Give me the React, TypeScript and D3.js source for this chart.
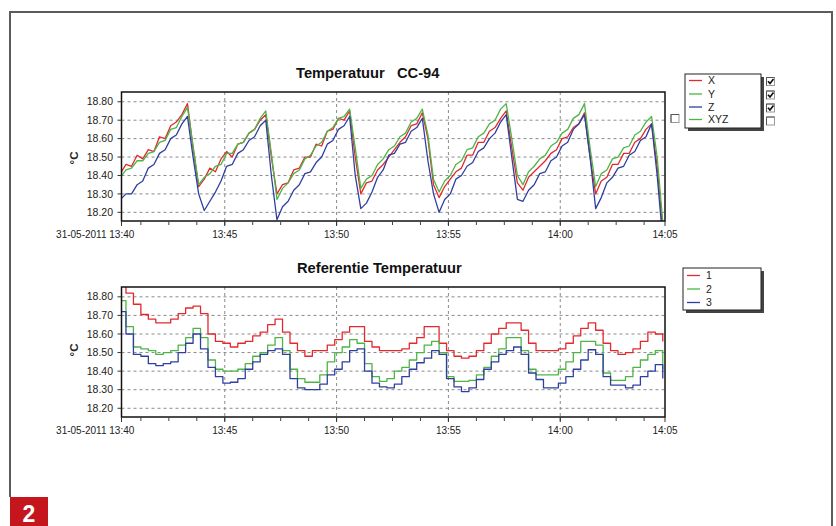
import React from "react";
import * as d3 from "d3";

// ---------- DATA ----------
const TOP_START = new Date(2011, 4, 31, 13, 40, 20);
const TOP_STEP_SEC = 15;
const topX = [
  18.41,18.46,18.45,18.51,18.49,18.54,18.53,18.61,18.60,18.67,
  18.69,18.73,18.79,18.55,18.34,18.38,18.44,18.42,18.49,18.53,
  18.50,18.57,18.58,18.63,18.65,18.70,18.73,18.50,18.30,18.35,
  18.36,18.43,18.44,18.50,18.50,18.57,18.56,18.64,18.65,18.71,
  18.70,18.75,18.50,18.30,18.36,18.37,18.43,18.46,18.50,18.54,
  18.58,18.61,18.67,18.68,18.74,18.60,18.35,18.28,18.34,18.38,
  18.42,18.44,18.51,18.51,18.58,18.58,18.64,18.66,18.71,18.75,
  18.55,18.36,18.32,18.39,18.42,18.45,18.48,18.52,18.54,18.60,
  18.61,18.66,18.68,18.74,18.50,18.30,18.37,18.39,18.46,18.46,
  18.52,18.52,18.58,18.60,18.65,18.68,18.45,18.10,
];
const topY = [
  18.39,18.43,18.44,18.48,18.48,18.52,18.53,18.58,18.59,18.65,
  18.66,18.72,18.77,18.56,18.35,18.39,18.41,18.45,18.46,18.52,
  18.52,18.57,18.58,18.63,18.65,18.71,18.75,18.52,18.27,18.33,
  18.36,18.41,18.43,18.49,18.51,18.56,18.58,18.64,18.66,18.71,
  18.72,18.76,18.55,18.33,18.38,18.40,18.46,18.49,18.54,18.56,
  18.61,18.63,18.69,18.71,18.76,18.62,18.38,18.31,18.37,18.40,
  18.46,18.48,18.54,18.55,18.61,18.63,18.68,18.70,18.76,18.79,
  18.60,18.40,18.35,18.42,18.45,18.49,18.51,18.56,18.58,18.63,
  18.65,18.71,18.73,18.79,18.55,18.34,18.41,18.43,18.49,18.50,
  18.55,18.56,18.62,18.64,18.69,18.72,18.50,18.15,
];
const topZ = [
  18.27,18.30,18.30,18.35,18.37,18.44,18.46,18.52,18.54,18.60,
  18.62,18.68,18.72,18.50,18.30,18.21,18.26,18.31,18.37,18.45,
  18.46,18.52,18.54,18.59,18.61,18.67,18.70,18.40,18.16,18.23,
  18.26,18.32,18.35,18.41,18.42,18.47,18.50,18.57,18.59,18.65,
  18.67,18.72,18.40,18.22,18.25,18.31,18.39,18.43,18.51,18.52,
  18.57,18.58,18.64,18.66,18.71,18.48,18.30,18.20,18.27,18.30,
  18.38,18.40,18.45,18.47,18.53,18.55,18.60,18.63,18.69,18.73,
  18.50,18.27,18.26,18.32,18.35,18.41,18.42,18.48,18.50,18.56,
  18.58,18.65,18.68,18.73,18.50,18.22,18.28,18.36,18.39,18.44,
  18.45,18.51,18.53,18.59,18.61,18.68,18.40,18.05,
];

const REF_START = new Date(2011, 4, 31, 13, 40, 15);
const REF_STEP_SEC = 20;
const ref1 = [
  18.88,18.82,18.76,18.705,18.68,18.66,18.66,18.68,18.71,18.74,
  18.75,18.71,18.60,18.56,18.55,18.53,18.55,18.56,18.59,18.61,
  18.65,18.68,18.61,18.55,18.51,18.48,18.51,18.51,18.54,18.57,
  18.61,18.64,18.64,18.56,18.53,18.51,18.51,18.51,18.52,18.55,
  18.58,18.64,18.64,18.55,18.51,18.48,18.47,18.48,18.51,18.55,
  18.60,18.63,18.66,18.66,18.62,18.55,18.51,18.51,18.51,18.52,
  18.55,18.59,18.63,18.66,18.62,18.55,18.51,18.49,18.50,18.52,
  18.56,18.61,18.60,18.56,
];
const ref2 = [
  18.78,18.64,18.53,18.52,18.51,18.49,18.50,18.51,18.54,18.58,
  18.63,18.58,18.46,18.41,18.40,18.40,18.41,18.44,18.48,18.50,
  18.54,18.58,18.51,18.41,18.36,18.34,18.34,18.38,18.45,18.50,
  18.53,18.57,18.55,18.44,18.37,18.345,18.36,18.40,18.42,18.46,
  18.50,18.54,18.56,18.50,18.37,18.345,18.345,18.35,18.38,18.42,
  18.48,18.52,18.58,18.58,18.51,18.41,18.38,18.38,18.38,18.41,
  18.45,18.50,18.56,18.56,18.54,18.39,18.35,18.35,18.37,18.42,
  18.46,18.49,18.51,18.41,
];
const ref3 = [
  18.72,18.60,18.49,18.48,18.44,18.43,18.44,18.45,18.50,18.55,
  18.60,18.52,18.42,18.37,18.335,18.34,18.36,18.41,18.45,18.49,
  18.51,18.52,18.49,18.36,18.31,18.30,18.30,18.33,18.38,18.41,
  18.45,18.51,18.52,18.40,18.335,18.315,18.31,18.33,18.37,18.41,
  18.445,18.47,18.51,18.49,18.36,18.315,18.29,18.31,18.355,18.41,
  18.45,18.49,18.51,18.53,18.49,18.39,18.355,18.31,18.31,18.335,
  18.37,18.41,18.46,18.515,18.49,18.37,18.325,18.325,18.31,18.325,
  18.37,18.40,18.435,18.36,
];

const yTicks = [18.2, 18.3, 18.4, 18.5, 18.6, 18.7, 18.8];
const Y_DOMAIN = [18.153, 18.853];
const X_DOMAIN = [new Date(2011, 4, 31, 13, 40, 23), new Date(2011, 4, 31, 14, 4, 41)];
const xTickTimes = [
  X_DOMAIN[0],
  new Date(2011, 4, 31, 13, 45),
  new Date(2011, 4, 31, 13, 50),
  new Date(2011, 4, 31, 13, 55),
  new Date(2011, 4, 31, 14, 0),
  X_DOMAIN[1],
];
const xTickLabels = ["31-05-2011 13:40", "13:45", "13:50", "13:55", "14:00", "14:05"];
const gridTimes = xTickTimes.slice(1, 5);
const topLegend = ["X", "Y", "Z", "XYZ"];
const topChecked = [true, true, true, false];
const refLegend = ["1", "2", "3"];

// ---------- STYLE ----------
const FONT = "'Liberation Sans', Arial, Helvetica, sans-serif";
const RED = "#e3292e";
const GREEN = "#4db545";
const BLUE = "#2f3fa0";
const PL = 121.5;
const PR = 665;

const x = d3.scaleTime().domain(X_DOMAIN).range([PL, PR]);
const minorTicks = d3.timeMinute
  .every(1)!
  .range(new Date(2011, 4, 31, 13, 40), new Date(2011, 4, 31, 14, 6))
  .flatMap((d) => [d])
  .filter(() => false);
// minor ticks every 75 seconds
const minorTimes: Date[] = d3
  .range(0, 21)
  .map((k) => d3.timeSecond.offset(new Date(2011, 4, 31, 13, 40), k * 75))
  .filter((d) => d >= X_DOMAIN[0] && d <= X_DOMAIN[1]);

function Panel({
  top, bottom, title, titleX, titleY, series, colors, start, stepSec, step, idp, ylabY,
}: any) {
  const y = d3.scaleLinear().domain(Y_DOMAIN).range([bottom, top]);
  const t = (i: number) => new Date(start.getTime() + i * stepSec * 1000);
  const line = d3
    .line<number>()
    .x((_, i) => x(t(i)))
    .y((d) => y(d))
    .curve(step ? d3.curveStepAfter : d3.curveLinear);
  return (
    <g>
      <defs>
        <clipPath id={idp}>
          <rect x={PL} y={top} width={PR - PL} height={bottom - top} />
        </clipPath>
      </defs>
      <text x={titleX} y={titleY} fontFamily={FONT} fontWeight="bold" fontSize={14.7} fill="#111" style={{ whiteSpace: "pre" }}>
        {title}
      </text>
      {/* grid */}
      {yTicks.map((v) => (
        <line key={"gy" + v} x1={PL} x2={PR} y1={y(v)} y2={y(v)} stroke="#8a8a8a" strokeDasharray="3,3" strokeWidth={1} />
      ))}
      {gridTimes.map((d, i) => (
        <line key={"gx" + i} x1={x(d)} x2={x(d)} y1={top} y2={bottom} stroke="#8a8a8a" strokeDasharray="3,3" strokeWidth={1} />
      ))}
      {/* series */}
      <g clipPath={`url(#${idp})`}>
        {series.map((s: number[], i: number) => (
          <path key={i} d={line(s) || ""} fill="none" stroke={colors[i]} strokeWidth={1.3} strokeLinejoin="round" />
        ))}
      </g>
      {/* frame */}
      <rect x={PL} y={top} width={PR - PL} height={bottom - top} fill="none" stroke="#111" strokeWidth={1.5} />
      {/* y ticks */}
      {yTicks.map((v) => (
        <g key={"yt" + v}>
          <line x1={PL - 4} x2={PL} y1={y(v)} y2={y(v)} stroke="#333" />
          <text x={113} y={y(v) + 3.6} textAnchor="end" fontFamily={FONT} fontSize={10.5} fill="#222">
            {v.toFixed(2)}
          </text>
        </g>
      ))}
      {/* x ticks */}
      {minorTimes.map((d, i) => (
        <line key={"mt" + i} x1={x(d)} x2={x(d)} y1={bottom} y2={bottom + 4} stroke="#444" />
      ))}
      {xTickTimes.map((d, i) => (
        <g key={"xt" + i}>
          <line x1={x(d)} x2={x(d)} y1={bottom} y2={bottom + 5} stroke="#333" />
          <text
            x={i === 0 ? x(d) + 12.8 : x(d)}
            y={bottom + 17}
            textAnchor={i === 0 ? "end" : "middle"}
            fontFamily={FONT}
            fontSize={10}
            fill="#222"
          >
            {xTickLabels[i]}
          </text>
        </g>
      ))}
      <text
        transform={`translate(78,${ylabY}) rotate(-90)`}
        textAnchor="middle"
        fontFamily={FONT}
        fontSize={11.5}
        fontWeight="bold"
        fill="#222"
      >
        °C
      </text>
    </g>
  );
}

function Legend({ x0, y0, w, h, labels, colors, rowY }: any) {
  return (
    <g>
      <rect x={x0 + 3} y={y0 + 3} width={w} height={h} fill="#444" />
      <rect x={x0} y={y0} width={w} height={h} fill="#fff" stroke="#222" strokeWidth={1} />
      {labels.map((l: string, i: number) => (
        <g key={l}>
          <line x1={x0 + 4} x2={x0 + 17} y1={rowY[i] - 3.5} y2={rowY[i] - 3.5} stroke={colors[i]} strokeWidth={1.3} />
          <text x={x0 + 23} y={rowY[i]} fontFamily={FONT} fontSize={10.5} fill="#222">
            {l}
          </text>
        </g>
      ))}
    </g>
  );
}

function CheckBox({ cx, cy, checked }: any) {
  return (
    <g>
      <rect x={cx} y={cy} width={8} height={8} fill="#fff" stroke="#9a9a9a" strokeWidth={1} />
      <path d={`M${cx} ${cy + 8} V${cy} H${cx + 8}`} fill="none" stroke="#555" strokeWidth={1} />
      {checked && (
        <path
          d={`M${cx + 1.5} ${cy + 3.8} L${cx + 3.5} ${cy + 6} L${cx + 7} ${cy + 1.5}`}
          fill="none"
          stroke="#111"
          strokeWidth={1.7}
        />
      )}
    </g>
  );
}

export default function App() {
  return (
    <svg
      width={836}
      height={526}
      viewBox="0 0 836 526"
      style={{ position: "absolute", left: 0, top: 0, background: "#fff", display: "block" }}
    >
      <rect x={0} y={0} width={836} height={526} fill="#fff" />
      {/* outer frame */}
      <path d="M10 497 V12 H832 V526" fill="none" stroke="#5c5c5c" strokeWidth={2} />

      <Panel
        idp="clipTop"
        top={92}
        bottom={221}
        title={"Temperatuur   CC-94"}
        titleX={296}
        titleY={78}
        series={[topX, topY, topZ]}
        colors={[RED, GREEN, BLUE]}
        start={TOP_START}
        stepSec={TOP_STEP_SEC}
        step={false}
        ylabY={158}
      />
      <Panel
        idp="clipRef"
        top={287}
        bottom={417}
        title={"Referentie Temperatuur"}
        titleX={297}
        titleY={273}
        series={[ref1, ref2, ref3]}
        colors={[RED, GREEN, BLUE]}
        start={REF_START}
        stepSec={REF_STEP_SEC}
        step={true}
        ylabY={350}
      />

      <Legend x0={685} y0={74} w={76} h={54} labels={topLegend} colors={[RED, GREEN, BLUE, GREEN]} rowY={[84, 97.5, 110.5, 123]} />
      {topLegend.map((l, i) => (
        <CheckBox key={l} cx={766.5} cy={[77.5, 91, 104, 117][i]} checked={topChecked[i]} />
      ))}
      <CheckBox cx={671} cy={114.5} checked={false} />

      <Legend x0={683} y0={268} w={78} h={42} labels={refLegend} colors={[RED, GREEN, BLUE]} rowY={[279, 292.5, 306]} />

      {/* figure badge */}
      <rect x={10} y={497} width={38} height={29} fill="#c4161c" />
      <text x={29} y={521.5} textAnchor="middle" fontFamily={FONT} fontWeight="bold" fontSize={23} fill="#fff">
        2
      </text>
    </svg>
  );
}
